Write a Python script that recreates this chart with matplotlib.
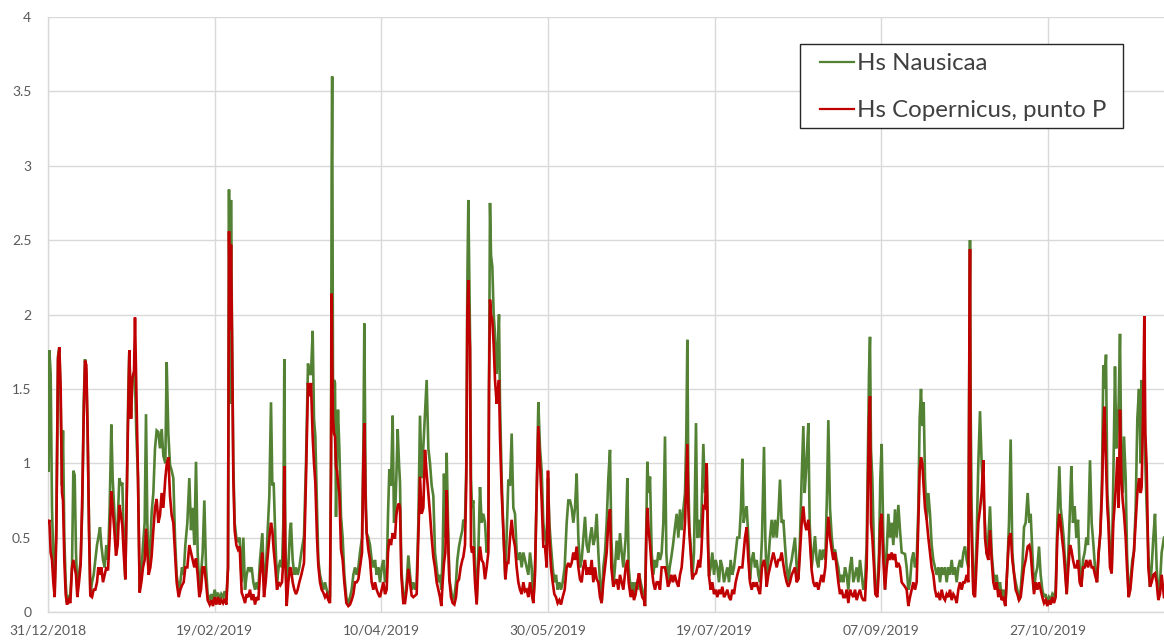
import datetime as dt

import matplotlib
matplotlib.use("Agg")
import matplotlib.pyplot as plt
import matplotlib.dates as mdates
from matplotlib.patches import Rectangle
from matplotlib.ticker import FixedLocator, FuncFormatter
import numpy as np

# Significant wave height (m), Nausicaa model vs Copernicus at point P.
# Sample times are given as days elapsed since the first date.
start_date = dt.datetime(2018, 12, 31)

days = [
    0.2, 0.4, 0.8, 1.2, 1.6, 2.0, 2.5, 3.0, 3.4, 3.8,
    4.2, 4.5, 4.9, 5.3, 5.7, 6.2, 6.7, 7.2, 7.6, 8.0,
    8.4, 8.8, 9.3, 9.8, 10.3, 10.7, 11.1, 11.5, 11.9, 12.3,
    12.7, 13.2, 13.7, 14.2, 14.7, 15.1, 15.6, 16.0, 16.5, 17.0,
    17.5, 18.0, 18.5, 19.0, 19.4, 19.9, 20.4, 20.9, 21.4, 21.9,
    22.3, 22.7, 23.2, 23.7, 24.1, 24.4, 24.9, 25.3, 25.8, 26.1,
    26.5, 27.0, 27.5, 28.0, 28.5, 29.0, 29.4, 29.8, 30.2, 30.7,
    31.1, 31.6, 32.1, 32.6, 33.1, 33.6, 34.1, 34.6, 35.2, 35.6,
    36.1, 36.6, 37.1, 37.6, 38.1, 38.6, 39.2, 39.7, 40.2, 40.7,
    41.2, 41.8, 42.4, 42.9, 43.4, 43.9, 44.4, 44.9, 45.4, 45.9,
    46.4, 46.9, 47.4, 47.9, 48.5, 49.0, 49.5, 50.0, 50.5, 51.0,
    51.5, 52.0, 52.5, 53.0, 53.5, 54.0, 54.3, 54.6, 54.9, 55.2,
    55.6, 56.0, 56.5, 57.0, 57.5, 58.1, 58.6, 59.1, 59.6, 60.1,
    60.6, 61.1, 61.6, 62.1, 62.6, 63.1, 63.6, 64.3, 64.8, 65.3,
    65.8, 66.4, 66.9, 67.3, 67.7, 68.2, 68.7, 69.2, 69.7, 70.2,
    70.6, 70.9, 71.2, 71.6, 72.1, 72.6, 72.9, 73.4, 73.9, 74.4,
    74.9, 75.4, 76.0, 76.8, 77.4, 78.0, 78.4, 78.9, 79.4, 79.8,
    80.2, 80.7, 81.1, 81.6, 82.1, 82.6, 83.1, 83.6, 84.1, 84.6,
    84.9, 85.1, 85.25, 85.5, 85.8, 86.1, 86.4, 86.7, 87.0, 87.4,
    87.9, 88.4, 88.9, 89.5, 90.1, 90.6, 91.1, 91.6, 92.1, 92.6,
    93.1, 93.6, 94.2, 94.6, 94.9, 95.3, 95.6, 96.1, 96.6, 97.1,
    97.6, 98.1, 98.6, 99.1, 99.6, 100.1, 100.6, 101.1, 101.6, 102.0,
    102.4, 102.9, 103.4, 103.8, 104.1, 104.5, 104.9, 105.3, 105.6, 106.0,
    106.6, 107.1, 107.6, 108.1, 108.6, 109.1, 109.6, 110.1, 110.6, 111.1,
    111.6, 112.1, 112.6, 113.1, 113.6, 114.1, 114.6, 115.1, 115.6, 116.1,
    116.6, 117.1, 117.6, 118.0, 118.4, 118.8, 119.2, 119.6, 120.0, 120.4,
    120.9, 121.4, 121.9, 122.4, 122.8, 123.3, 123.8, 124.3, 124.6, 125.1,
    125.5, 125.8, 126.1, 126.4, 126.6, 126.9, 127.2, 127.6, 128.1, 128.6,
    129.1, 129.6, 130.1, 130.6, 131.1, 131.6, 132.1, 132.3, 132.6, 132.9,
    133.3, 133.7, 134.1, 134.6, 135.0, 135.3, 135.6, 136.1, 136.6, 137.2,
    137.7, 138.1, 138.6, 139.1, 139.6, 140.1, 140.6, 141.1, 141.6, 142.1,
    142.6, 143.1, 143.6, 144.1, 144.6, 145.1, 145.6, 146.1, 146.6, 147.1,
    147.6, 148.1, 148.6, 149.1, 149.6, 150.0, 150.4, 150.9, 151.4, 151.9,
    152.4, 152.9, 153.4, 153.9, 154.4, 155.0, 155.6, 156.1, 156.6, 157.1,
    157.6, 158.1, 158.6, 159.1, 159.6, 160.1, 160.6, 161.1, 161.6, 162.1,
    162.6, 163.1, 163.6, 164.1, 164.6, 165.1, 165.6, 166.1, 166.6, 167.1,
    167.6, 168.1, 168.6, 169.0, 169.6, 170.1, 170.6, 171.1, 171.6, 172.1,
    172.6, 173.3, 173.8, 174.2, 174.8, 175.3, 175.8, 176.3, 176.8, 177.3,
    177.8, 178.3, 178.8, 179.1, 179.5, 179.8, 180.2, 180.6, 181.1, 181.6,
    182.1, 182.6, 183.1, 183.6, 184.1, 184.6, 185.1, 185.5, 186.0, 186.5,
    187.0, 187.5, 188.0, 188.6, 189.1, 189.6, 190.1, 190.6, 191.1, 191.5,
    191.8, 192.1, 192.4, 192.8, 193.3, 193.8, 194.4, 194.8, 195.2, 195.6,
    196.0, 196.6, 197.1, 197.6, 198.0, 198.3, 198.8, 199.3, 199.8, 200.3,
    200.8, 201.3, 201.8, 202.3, 202.8, 203.3, 203.8, 204.3, 204.8, 205.3,
    205.8, 206.3, 206.8, 207.4, 207.9, 208.3, 208.7, 209.1, 209.6, 210.1,
    210.6, 211.1, 211.6, 212.1, 212.6, 213.1, 213.6, 214.2, 214.8, 215.2,
    215.6, 216.1, 216.6, 217.1, 217.6, 218.1, 218.6, 219.1, 219.6, 220.1,
    220.6, 221.1, 221.6, 222.1, 222.6, 223.1, 224.1, 224.6, 225.1, 225.6,
    226.1, 226.6, 227.0, 227.5, 228.1, 228.5, 229.1, 229.6, 230.1, 230.6,
    231.1, 231.6, 232.1, 232.6, 233.2, 233.7, 234.1, 234.6, 235.1, 235.6,
    236.1, 236.6, 237.1, 237.6, 238.1, 238.6, 239.1, 239.6, 240.1, 240.6,
    241.1, 241.6, 242.1, 242.6, 243.1, 243.6, 244.1, 244.6, 245.1, 245.6,
    246.0, 246.3, 246.6, 246.9, 247.3, 247.8, 248.2, 248.8, 249.3, 249.7,
    250.1, 250.6, 251.1, 251.6, 252.1, 252.6, 253.1, 253.6, 254.1, 254.6,
    255.1, 255.6, 256.1, 257.1, 257.6, 258.1, 258.6, 259.1, 259.6, 260.1,
    260.6, 261.1, 261.5, 261.9, 262.3, 262.7, 263.1, 263.6, 264.1, 264.6,
    265.1, 265.6, 266.1, 266.6, 267.1, 267.6, 268.1, 268.6, 269.1, 269.6,
    270.1, 270.6, 271.1, 271.6, 272.1, 272.6, 273.1, 273.6, 274.1, 274.6,
    275.1, 275.6, 276.1, 276.4, 276.6, 276.8, 277.1, 277.6, 278.1, 278.6,
    279.1, 279.6, 280.1, 280.6, 281.1, 281.6, 282.1, 282.6, 283.1, 283.6,
    284.1, 284.6, 285.1, 285.6, 286.1, 286.6, 287.2, 287.8, 288.3, 288.8,
    289.3, 289.8, 290.3, 290.8, 291.3, 291.8, 292.3, 292.8, 293.3, 293.9,
    294.4, 294.8, 295.3, 295.8, 296.3, 296.8, 297.3, 297.8, 298.3, 298.8,
    299.3, 299.8, 300.3, 300.8, 301.3, 301.8, 302.3, 302.8, 303.4, 303.8,
    304.2, 304.7, 305.2, 305.6, 306.1, 306.6, 307.0, 307.5, 308.0, 308.5,
    309.0, 309.5, 310.0, 310.5, 311.0, 311.5, 312.0, 312.6, 313.1, 313.6,
    314.1, 314.7, 315.2, 315.7, 316.2, 316.6, 316.9, 317.4, 317.8, 318.1,
    318.6, 319.1, 319.6, 320.1, 320.5, 320.8, 321.2, 321.6, 322.0, 322.4,
    322.8, 323.3, 323.7, 324.2, 324.7, 325.3, 325.8, 326.3, 326.8, 327.3,
    327.8, 328.1, 328.5, 328.9, 329.2, 329.6, 330.1, 330.6, 331.1, 331.6,
    332.1, 332.6, 333.1, 333.6, 334.1, 334.8,
]

hs_nausicaa = [
    0.95, 1.76, 1.6, 0.7, 0.35, 0.15, 0.6, 1.72, 1.78, 1.4,
    0.85, 1.22, 0.5, 0.2, 0.06, 0.1, 0.12, 0.3, 0.95, 0.92,
    0.4, 0.15, 0.25, 0.35, 0.7, 1.4, 1.7, 1.6, 1.2, 0.6,
    0.12, 0.2, 0.25, 0.35, 0.45, 0.5, 0.57, 0.45, 0.35, 0.3,
    0.45, 0.35, 0.7, 1.26, 0.9, 0.67, 0.45, 0.6, 0.9, 0.85,
    0.87, 0.5, 0.22, 0.9, 1.5, 1.76, 1.3, 1.55, 1.6, 1.55,
    1.2, 0.9, 0.15, 0.25, 0.45, 0.6, 1.33, 0.6, 0.3, 0.45,
    0.67, 0.8, 1.1, 1.22, 1.21, 1.1, 1.23, 1.05, 1.0, 1.68,
    1.2, 0.99, 0.95, 0.9, 0.5, 0.25, 0.15, 0.2, 0.3, 0.25,
    0.45, 0.6, 0.9, 0.55, 0.7, 0.45, 1.01, 0.4, 0.15, 0.25,
    0.4, 0.75, 0.3, 0.12, 0.08, 0.12, 0.08, 0.15, 0.1, 0.13,
    0.08, 0.12, 0.1, 0.14, 0.08, 0.3, 2.84, 1.4, 2.77, 1.9,
    1.0, 0.6, 0.5, 0.48, 0.5, 0.2, 0.5, 0.15, 0.25, 0.3,
    0.28, 0.3, 0.2, 0.15, 0.2, 0.15, 0.35, 0.53, 0.2, 0.25,
    0.5, 0.78, 1.41, 0.85, 0.87, 0.5, 0.2, 0.3, 0.35, 0.3,
    0.6, 1.7, 0.5, 0.1, 0.3, 0.55, 0.6, 0.35, 0.25, 0.3,
    0.25, 0.3, 0.4, 0.51, 1.0, 1.67, 1.6, 1.6, 1.89, 1.3,
    1.18, 0.7, 0.35, 0.25, 0.2, 0.15, 0.2, 0.15, 0.12, 0.1,
    1.0, 3.0, 3.6, 1.5, 1.56, 1.54, 0.64, 1.1, 1.36, 1.1,
    0.64, 0.5, 0.25, 0.1, 0.05, 0.1, 0.15, 0.25, 0.3, 0.25,
    0.3, 0.4, 0.5, 1.1, 1.94, 0.8, 0.53, 0.5, 0.45, 0.35,
    0.3, 0.35, 0.25, 0.3, 0.2, 0.3, 0.35, 0.2, 0.25, 0.65,
    0.96, 0.85, 1.32, 0.6, 0.64, 0.9, 1.23, 1.0, 0.87, 0.3,
    0.08, 0.1, 0.2, 0.38, 0.25, 0.15, 0.2, 0.15, 0.2, 0.6,
    1.32, 0.9, 1.11, 1.34, 1.56, 1.1, 1.0, 0.85, 0.78, 0.4,
    0.3, 0.2, 0.25, 0.15, 0.4, 0.93, 0.5, 1.07, 0.6, 0.22,
    0.15, 0.08, 0.1, 0.2, 0.35, 0.44, 0.5, 0.55, 0.62, 0.6,
    1.0, 2.2, 2.77, 2.2, 1.87, 0.9, 0.7, 0.75, 0.3, 0.06,
    0.4, 0.84, 0.6, 0.66, 0.6, 0.4, 0.5, 1.5, 2.75, 2.4,
    2.32, 2.0, 1.87, 1.6, 1.8, 2.0, 1.4, 0.9, 0.55, 0.22,
    0.6, 0.89, 0.85, 1.2, 0.7, 0.66, 0.4, 0.35, 0.4, 0.3,
    0.4, 0.35, 0.3, 0.25, 0.4, 0.3, 0.06, 0.3, 0.8, 1.41,
    1.1, 0.95, 0.6, 0.5, 0.45, 0.9, 0.6, 0.44, 0.3, 0.2,
    0.25, 0.15, 0.2, 0.15, 0.2, 0.3, 0.6, 0.75, 0.75, 0.7,
    0.6, 0.7, 0.93, 0.5, 0.3, 0.35, 0.5, 0.64, 0.45, 0.4,
    0.5, 0.57, 0.45, 0.5, 0.66, 0.4, 0.2, 0.06, 0.3, 0.4,
    0.6, 0.9, 1.09, 0.5, 0.17, 0.3, 0.48, 0.35, 0.53, 0.4,
    0.3, 0.5, 0.9, 0.3, 0.15, 0.2, 0.1, 0.2, 0.15, 0.26,
    0.2, 0.15, 0.1, 0.04, 0.6, 1.01, 0.8, 0.91, 0.4, 0.25,
    0.35, 0.3, 0.4, 0.35, 0.4, 0.6, 1.18, 0.4, 0.2, 0.3,
    0.37, 0.45, 0.55, 0.66, 0.5, 0.69, 0.55, 0.69, 0.8, 1.2,
    1.83, 0.9, 0.57, 0.45, 0.22, 0.4, 1.27, 0.5, 0.62, 0.5,
    0.62, 1.13, 0.8, 1.0, 0.5, 0.24, 0.3, 0.4, 0.25, 0.35,
    0.3, 0.2, 0.35, 0.3, 0.2, 0.25, 0.3, 0.2, 0.35, 0.25,
    0.3, 0.4, 0.5, 0.5, 0.7, 1.03, 0.6, 0.66, 0.71, 0.5,
    0.22, 0.35, 0.4, 0.3, 0.35, 0.25, 0.2, 0.5, 1.11, 0.5,
    0.2, 0.35, 0.5, 0.62, 0.5, 0.62, 0.5, 0.65, 0.89, 0.6,
    0.62, 0.45, 0.3, 0.2, 0.3, 0.35, 0.5, 0.3, 0.22, 0.5,
    0.9, 1.25, 0.8, 0.98, 1.27, 0.6, 0.3, 0.4, 0.51, 0.35,
    0.3, 0.42, 0.35, 0.42, 0.35, 0.8, 1.29, 0.7, 0.51, 0.4,
    0.42, 0.35, 0.3, 0.2, 0.25, 0.2, 0.3, 0.25, 0.15, 0.3,
    0.37, 0.2, 0.25, 0.3, 0.2, 0.35, 0.25, 0.15, 0.2, 0.45,
    1.1, 1.6, 1.85, 1.09, 0.9, 0.4, 0.15, 0.15, 0.4, 0.9,
    1.13, 0.5, 0.15, 0.4, 0.66, 0.5, 0.6, 0.45, 0.69, 0.5,
    0.72, 0.55, 0.4, 0.39, 0.3, 0.15, 0.2, 0.35, 0.4, 0.3,
    0.35, 0.7, 1.3, 1.5, 1.25, 1.41, 0.9, 0.62, 0.8, 0.66,
    0.45, 0.35, 0.3, 0.25, 0.3, 0.2, 0.3, 0.25, 0.3, 0.2,
    0.3, 0.25, 0.35, 0.25, 0.3, 0.2, 0.3, 0.35, 0.3, 0.4,
    0.44, 0.35, 0.3, 1.8, 2.5, 1.36, 0.7, 0.15, 0.2, 0.5,
    1.0, 1.35, 1.0, 0.8, 0.6, 0.39, 0.5, 0.71, 0.4, 0.26,
    0.2, 0.25, 0.15, 0.2, 0.1, 0.15, 0.04, 0.3, 0.6, 1.16,
    0.4, 0.26, 0.2, 0.15, 0.08, 0.15, 0.3, 0.57, 0.6, 0.8,
    0.6, 0.66, 0.4, 0.15, 0.25, 0.3, 0.44, 0.25, 0.15, 0.1,
    0.12, 0.06, 0.1, 0.08, 0.12, 0.1, 0.15, 0.6, 0.98, 0.7,
    0.62, 0.5, 0.3, 0.12, 0.4, 0.7, 0.98, 0.6, 0.71, 0.5,
    0.62, 0.3, 0.17, 0.35, 0.4, 0.5, 0.45, 1.02, 0.6, 0.46,
    0.3, 0.2, 0.4, 0.53, 0.9, 1.66, 1.5, 1.73, 0.8, 0.69,
    0.4, 0.26, 0.9, 1.65, 1.1, 1.2, 1.4, 1.87, 1.0, 0.8,
    1.18, 0.9, 0.4, 0.1, 0.2, 0.35, 0.41, 0.7, 1.3, 1.5,
    1.0, 1.56, 1.2, 1.49, 1.0, 0.7, 0.4, 0.17, 0.3, 0.5,
    0.66, 0.3, 0.1, 0.2, 0.4, 0.5,
]

hs_copernicus = [
    0.6, 0.62, 0.4, 0.35, 0.2, 0.1, 0.5, 1.7, 1.78, 1.5,
    0.8, 0.75, 0.35, 0.12, 0.05, 0.08, 0.06, 0.3, 0.35, 0.3,
    0.25, 0.1, 0.2, 0.32, 0.8, 1.3, 1.69, 1.66, 1.2, 0.55,
    0.11, 0.1, 0.15, 0.15, 0.2, 0.3, 0.25, 0.3, 0.2, 0.25,
    0.3, 0.28, 0.5, 0.81, 0.7, 0.55, 0.38, 0.45, 0.72, 0.65,
    0.58, 0.4, 0.22, 0.9, 1.4, 1.76, 1.3, 1.57, 1.62, 1.98,
    1.5, 0.9, 0.13, 0.2, 0.3, 0.35, 0.56, 0.4, 0.25, 0.3,
    0.38, 0.55, 0.7, 0.76, 0.6, 0.65, 0.8, 0.7, 0.9, 0.99,
    1.04, 0.78, 0.65, 0.6, 0.4, 0.2, 0.1, 0.15, 0.18, 0.2,
    0.3, 0.3, 0.45, 0.4, 0.35, 0.3, 0.36, 0.25, 0.1, 0.15,
    0.3, 0.3, 0.2, 0.08, 0.05, 0.08, 0.04, 0.1, 0.05, 0.1,
    0.05, 0.08, 0.06, 0.09, 0.05, 0.3, 2.56, 1.9, 2.47, 1.85,
    0.9, 0.55, 0.45, 0.42, 0.44, 0.13, 0.1, 0.06, 0.12, 0.1,
    0.15, 0.08, 0.12, 0.05, 0.1, 0.08, 0.25, 0.4, 0.1, 0.2,
    0.35, 0.5, 0.6, 0.55, 0.42, 0.3, 0.15, 0.2, 0.18, 0.2,
    0.35, 0.98, 0.35, 0.04, 0.2, 0.3, 0.29, 0.2, 0.15, 0.12,
    0.15, 0.2, 0.25, 0.33, 0.9, 1.54, 1.45, 1.54, 1.18, 1.0,
    0.87, 0.5, 0.31, 0.2, 0.15, 0.13, 0.1, 0.12, 0.08, 0.06,
    1.0, 2.14, 1.7, 1.3, 1.2, 1.18, 0.98, 0.95, 0.87, 0.8,
    0.42, 0.35, 0.2, 0.06, 0.04, 0.05, 0.08, 0.12, 0.2, 0.2,
    0.22, 0.3, 0.4, 1.0, 1.27, 0.7, 0.53, 0.42, 0.35, 0.2,
    0.15, 0.2, 0.15, 0.12, 0.1, 0.15, 0.2, 0.12, 0.15, 0.4,
    0.49, 0.45, 0.53, 0.5, 0.5, 0.65, 0.71, 0.73, 0.7, 0.25,
    0.06, 0.06, 0.15, 0.29, 0.2, 0.11, 0.1, 0.11, 0.12, 0.5,
    0.91, 0.66, 0.7, 1.09, 0.93, 0.8, 0.66, 0.5, 0.37, 0.3,
    0.2, 0.15, 0.1, 0.04, 0.2, 0.33, 0.4, 0.82, 0.5, 0.22,
    0.1, 0.06, 0.05, 0.1, 0.2, 0.22, 0.3, 0.35, 0.37, 0.45,
    0.9, 2.0, 2.23, 1.9, 1.78, 0.44, 0.4, 0.44, 0.2, 0.05,
    0.3, 0.44, 0.35, 0.33, 0.22, 0.3, 0.4, 1.5, 2.1, 2.0,
    1.96, 1.8, 1.56, 1.4, 1.5, 1.56, 1.18, 0.8, 0.55, 0.22,
    0.33, 0.33, 0.5, 0.62, 0.5, 0.44, 0.3, 0.2, 0.15, 0.12,
    0.2, 0.14, 0.15, 0.1, 0.2, 0.12, 0.06, 0.25, 0.8, 1.25,
    1.0, 0.75, 0.44, 0.44, 0.3, 0.95, 0.5, 0.3, 0.2, 0.12,
    0.1, 0.06, 0.08, 0.05, 0.1, 0.15, 0.3, 0.33, 0.3, 0.33,
    0.4, 0.35, 0.44, 0.3, 0.22, 0.2, 0.3, 0.35, 0.25, 0.3,
    0.25, 0.35, 0.2, 0.3, 0.22, 0.2, 0.1, 0.06, 0.2, 0.3,
    0.4, 0.6, 0.69, 0.3, 0.17, 0.2, 0.22, 0.15, 0.25, 0.2,
    0.15, 0.3, 0.35, 0.2, 0.1, 0.15, 0.08, 0.12, 0.2, 0.26,
    0.15, 0.1, 0.08, 0.04, 0.5, 0.7, 0.55, 0.46, 0.3, 0.2,
    0.15, 0.2, 0.2, 0.15, 0.3, 0.3, 0.3, 0.25, 0.17, 0.2,
    0.25, 0.2, 0.25, 0.2, 0.17, 0.25, 0.3, 0.44, 0.6, 0.9,
    1.13, 0.7, 0.53, 0.4, 0.22, 0.25, 0.26, 0.3, 0.35, 0.3,
    0.4, 0.71, 0.7, 1.0, 0.45, 0.24, 0.15, 0.2, 0.12, 0.15,
    0.1, 0.15, 0.12, 0.17, 0.1, 0.12, 0.15, 0.1, 0.08, 0.15,
    0.12, 0.2, 0.25, 0.3, 0.3, 0.3, 0.4, 0.5, 0.57, 0.35,
    0.2, 0.15, 0.2, 0.17, 0.2, 0.15, 0.12, 0.3, 0.35, 0.3,
    0.17, 0.25, 0.3, 0.35, 0.4, 0.35, 0.3, 0.35, 0.35, 0.4,
    0.32, 0.25, 0.2, 0.17, 0.2, 0.25, 0.3, 0.2, 0.22, 0.4,
    0.6, 0.71, 0.6, 0.55, 0.62, 0.5, 0.28, 0.2, 0.17, 0.2,
    0.15, 0.2, 0.25, 0.2, 0.3, 0.5, 0.64, 0.5, 0.42, 0.35,
    0.4, 0.3, 0.2, 0.12, 0.15, 0.1, 0.1, 0.15, 0.06, 0.15,
    0.12, 0.1, 0.15, 0.08, 0.12, 0.15, 0.1, 0.08, 0.08, 0.3,
    0.9, 1.3, 1.45, 0.6, 0.5, 0.3, 0.12, 0.1, 0.3, 0.6,
    0.66, 0.35, 0.15, 0.3, 0.39, 0.35, 0.4, 0.35, 0.39, 0.3,
    0.33, 0.3, 0.2, 0.17, 0.15, 0.04, 0.1, 0.15, 0.2, 0.15,
    0.2, 0.6, 0.95, 1.04, 1.0, 0.84, 0.7, 0.62, 0.5, 0.4,
    0.3, 0.25, 0.15, 0.1, 0.12, 0.08, 0.15, 0.1, 0.08, 0.12,
    0.1, 0.15, 0.08, 0.12, 0.1, 0.06, 0.15, 0.2, 0.15, 0.2,
    0.2, 0.25, 0.2, 1.7, 2.44, 0.78, 0.5, 0.12, 0.1, 0.35,
    0.6, 0.69, 0.8, 1.02, 0.5, 0.39, 0.35, 0.55, 0.35, 0.2,
    0.15, 0.2, 0.1, 0.15, 0.08, 0.1, 0.04, 0.3, 0.5, 0.53,
    0.35, 0.26, 0.15, 0.12, 0.08, 0.1, 0.2, 0.3, 0.35, 0.44,
    0.45, 0.4, 0.25, 0.12, 0.2, 0.15, 0.2, 0.15, 0.1, 0.06,
    0.08, 0.04, 0.08, 0.05, 0.1, 0.06, 0.1, 0.5, 0.66, 0.6,
    0.5, 0.4, 0.25, 0.12, 0.3, 0.45, 0.42, 0.35, 0.3, 0.3,
    0.35, 0.2, 0.17, 0.3, 0.3, 0.35, 0.3, 0.35, 0.3, 0.3,
    0.25, 0.2, 0.4, 0.53, 0.8, 1.2, 1.38, 1.0, 0.7, 0.6,
    0.3, 0.26, 0.6, 0.75, 0.9, 1.04, 0.7, 1.36, 0.9, 0.75,
    0.66, 0.5, 0.3, 0.1, 0.15, 0.3, 0.41, 0.6, 0.8, 0.9,
    0.8, 0.84, 1.3, 1.99, 1.2, 0.98, 0.3, 0.17, 0.2, 0.25,
    0.26, 0.2, 0.08, 0.12, 0.25, 0.1,
]

series_labels = ["Hs Nausicaa", "Hs Copernicus, punto P"]
series_colors = ["#548235", "#C00000"]
tick_step_days = 50
n_date_ticks = 7
y_ticks = [0, 0.5, 1, 1.5, 2, 2.5, 3, 3.5, 4]
span_days = 334.8

plt.rcParams["font.family"] = ["Lato", "DejaVu Sans"]

W, H = 1164, 643
fig = plt.figure(figsize=(W / 100, H / 100), dpi=100)
ax = fig.add_axes([48 / W, 31 / H, 1 - 48 / W, 595 / H])

t0 = mdates.date2num(start_date)
x = t0 + np.asarray(days)

line_w = 1.9
ax.plot(x, hs_nausicaa, color=series_colors[0], lw=line_w, label=series_labels[0],
        solid_joinstyle="miter", zorder=3)
ax.plot(x, hs_copernicus, color=series_colors[1], lw=line_w, label=series_labels[1],
        solid_joinstyle="miter", zorder=4)

ax.set_xlim(t0, t0 + span_days)
ax.set_ylim(0, 4)

date_ticks = [t0 + tick_step_days * k for k in range(n_date_ticks)]
ax.xaxis.set_major_locator(FixedLocator(date_ticks))
ax.xaxis.set_major_formatter(mdates.DateFormatter("%d/%m/%Y"))
ax.yaxis.set_major_locator(FixedLocator(y_ticks))
ax.yaxis.set_major_formatter(FuncFormatter(lambda v, _: f"{v:g}"))

grid_color = "#d9d9d9"
ax.grid(True, color=grid_color, lw=1.0, zorder=0)
ax.set_axisbelow(True)
for side in ("top", "right"):
    ax.spines[side].set_visible(False)
for side in ("left", "bottom"):
    ax.spines[side].set_color(grid_color)
    ax.spines[side].set_linewidth(1.0)

ax.tick_params(axis="both", length=0, labelsize=10, labelcolor="#595959")
ax.tick_params(axis="x", pad=9)
ax.tick_params(axis="y", pad=12)

# Legend: boxed panel in the upper right of the plot area
box = Rectangle((800 / W, 1 - 128 / H), 323 / W, 84 / H, transform=fig.transFigure,
                facecolor="white", edgecolor="#262626", lw=1.0, zorder=5,
                clip_on=False)
ax.add_artist(box)
leg = ax.legend(loc="upper left", bbox_to_anchor=(820 / W, 1 - 53 / H),
                bbox_transform=fig.transFigure, fontsize=17.3, frameon=False,
                handlelength=1.4, handletextpad=0.12, labelspacing=1.08,
                borderpad=0, borderaxespad=0)
leg.set_zorder(6)
for txt in leg.get_texts():
    txt.set_color("#404040")
for line in leg.get_lines():
    line.set_linewidth(1.6)

fig.savefig("out.png", dpi=100)
